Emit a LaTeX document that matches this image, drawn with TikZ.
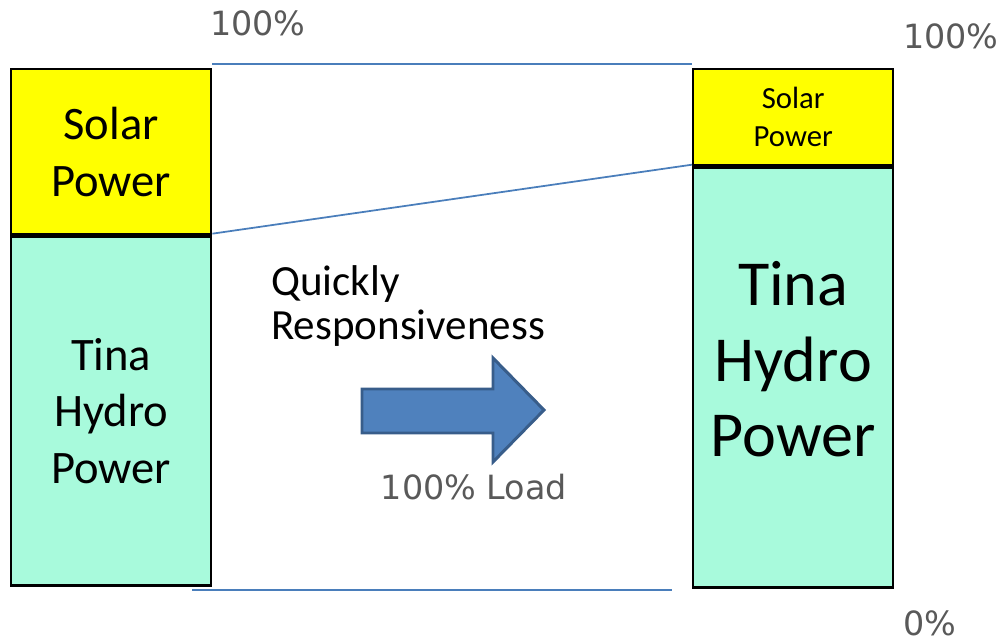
\documentclass[tikz,border=0pt]{standalone}
\usepackage{fontspec}
\setmainfont{Carlito}
\newfontfamily\pctfont{DejaVu Sans}
\usepackage{tikz}
\usetikzlibrary{positioning, calc}
\definecolor{solaryellow}{RGB}{255,255,0}
\definecolor{hydroaqua}{RGB}{168,250,220}
\definecolor{guideblue}{RGB}{74,126,187}
\definecolor{arrowblue}{RGB}{79,129,189}
\definecolor{arrowedge}{RGB}{56,93,138}
\definecolor{pctgray}{RGB}{89,89,89}

\begin{document}
\begin{tikzpicture}[x=0.02cm, y=-0.02cm,
  bar/.style={draw=black, line width=1.4pt, inner sep=0pt, minimum width=4cm, align=center},
  guide/.style={draw=guideblue, line width=1pt},
  pct/.style={text=pctgray, font=\pctfont\fontsize{19}{22}\selectfont, inner sep=0pt}]
  \useasboundingbox (0,0) rectangle (1001,642);
  % left column: share before the load step
  \node[bar, fill=solaryellow, minimum height=3.3cm, anchor=north west,
        font=\fontsize{26.5}{32.3}\selectfont] (solarL) at (10,68) {Solar\\Power};
  \node[bar, fill=hydroaqua, minimum height=6.98cm, anchor=north,
        font=\fontsize{26.5}{32.3}\selectfont] (hydroL) at (solarL.south) {Tina\\Hydro\\Power};
  % right column: share at full load
  \node[bar, fill=solaryellow, minimum height=1.92cm, anchor=north west,
        font=\fontsize{17.5}{21.6}\selectfont] (solarR) at (692,68) {Solar\\Power};
  \node[bar, fill=hydroaqua, minimum height=8.4cm, anchor=north, text depth=21pt,
        font=\fontsize{36.5}{43}\selectfont] (hydroR) at (solarR.south) {Tina\\Hydro\\Power};
  % guide lines between the columns
  \draw[guide] ([yshift=2.2pt]solarL.north east) -- ([yshift=2.2pt]solarR.north west);
  \draw[guide] ([yshift=1pt]hydroL.north east) -- ([yshift=1pt]hydroR.north west);
  \draw[guide] ($(hydroL.east |- hydroR.south)+(-20,1)$) -- ($(hydroR.south west)+(-20,1)$);
  % block arrow
  \draw[fill=arrowblue, draw=arrowedge, line width=1.7pt, line join=miter]
    (362,389) -- (493,389) -- (493,358) -- (544,410) -- (493,462) -- (493,433) -- (362,433) -- cycle;
  \node[anchor=west, align=left, inner sep=0pt, font=\fontsize{24.5}{25.5}\selectfont] (quick) at (271,306)
    {Quickly\\Responsiveness};
  % percentage marks
  \foreach \nm/\px/\py/\txt in {topL/258/23/100\%, topR/951/36/100\%, zero/930/623/0\%, load/474/487/100\% Load}{
    \node[pct] (\nm) at (\px,\py) {\txt};
  }
\end{tikzpicture}
\end{document}
